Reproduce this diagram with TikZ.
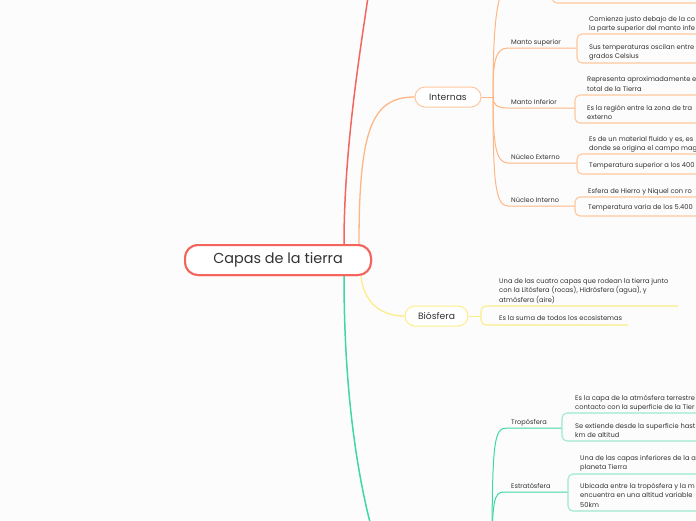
\documentclass[tikz,border=0pt]{standalone}
\usepackage{fontspec}
\setmainfont{Poppins}
\usetikzlibrary{calc}
\definecolor{bg}{HTML}{FCFCFC}
\definecolor{redl}{HTML}{F5655F}
\definecolor{orl}{HTML}{FFB685}
\definecolor{orb}{HTML}{FFC79E}
\definecolor{yel}{HTML}{FBEE8A}
\definecolor{grn}{HTML}{3FD8A2}
\definecolor{grb}{HTML}{9EE9CF}
\definecolor{txt}{HTML}{333333}
\tikzset{
  mainnode/.style={draw=redl, line width=2pt, rounded corners=13pt, minimum width=186pt, minimum height=30pt, text=txt, font=\fontsize{14.4}{16}\selectfont, fill=white},
  subnode/.style={line width=1pt, rounded corners=10pt, minimum height=20pt, text=txt, font=\fontsize{9.2}{11}\selectfont, fill=white},
  lbl/.style={text=txt, font=\fontsize{6.6}{8}\selectfont, inner sep=0pt, anchor=base west},
  det/.style={text=txt, font=\fontsize{6.7}{9.5}\selectfont, inner sep=0pt, anchor=north west, align=left, yshift=-2.5pt},
  brk/.style={line width=1.1pt, rounded corners=5pt},
}
\begin{document}
\begin{tikzpicture}[x=1pt,y=-1pt]
\fill[bg] (0,0) rectangle (696,520);
\useasboundingbox (0,0) rectangle (696,520);
\clip (0,0) rectangle (696,520);

% ---- nodes ----
\node[mainnode] (root) at (278,260) {Capas de la tierra};
\node[subnode, draw=orb, minimum width=66pt] (int) at (448,97) {Internas};
\node[subnode, draw=yel, minimum width=63pt] (bio) at (436.5,316) {Biósfera};

\coordinate (topred) at (369,-10);
\coordinate (botgrn) at (372,530);
\coordinate (os) at (493,97);
\coordinate (gs) at (492,560);
\coordinate (ctop) at (512,-18);

% ---- main branches ----
\draw[redl, line width=1.5pt] ([xshift=-28pt]root.north east) .. controls ([xshift=-28pt,yshift=100pt]root.north east) and (362,40) .. (topred);
\draw[orl, line width=1.3pt] ([xshift=-13pt]root.north east) .. controls ([xshift=-13pt,yshift=115pt]root.north east) and (372,97) .. (int.west);
\draw[yel, line width=1.3pt] ([xshift=-11pt]root.south east) .. controls ([xshift=-8pt,yshift=-28pt]root.south east) and (382,316) .. (bio.west);
\draw[grn, line width=1.5pt] ([xshift=-28pt]root.south east) .. controls ([xshift=-28pt,yshift=-110pt]root.south east) and (356,470) .. (botgrn);

% redraw nodes on top
\node[mainnode] at (root) {Capas de la tierra};

% ---- Internas spine ----
\draw[orl, line width=1pt] (int.east) -- (os);
\draw[orl, line width=1pt] (os) .. controls (493,30) and (496,-18) .. (ctop);
\draw[orl, line width=1pt] (os) .. controls (493,62) and (495,48) .. (508,48) -- (577,48);
\draw[orl, line width=1pt] (os) .. controls (493,104) and (496,108) .. (508,108) -- (575,108);
\draw[orl, line width=1pt] (os) .. controls (493,145) and (496,163) .. (508,163) -- (577,163);
\draw[orl, line width=1pt] (os) .. controls (493,180) and (495,206) .. (508,206) -- (575,206);

\node[lbl] (ms) at (511,44.5) {Manto superior};
\node[lbl] (mi) at (511,104) {Manto Inferior};
\node[lbl] (ne) at (511,159) {Núcleo Externo};
\node[lbl] (ni) at (511,202) {Núcleo Interno};

% brackets (orange)
\draw[orb, brk] (720,-20) -- (720,3) -- (552,3) -- (552,-20);
\draw[orb, brk] (720,34) -- (577,34) -- (577,63) -- (720,63);
\draw[orb, brk] (720,95) -- (575,95) -- (575,123) -- (720,123);
\draw[orb, brk] (720,154) -- (577,154) -- (577,174) -- (720,174);
\draw[orb, brk] (720,197) -- (575,197) -- (575,216) -- (720,216);

\node[det] at (589,13.5) {Comienza justo debajo de la co\\la parte superior del manto infe};
\node[det] at (589,41.5) {Sus temperaturas oscilan entre\\grados Celsius};
\node[det] at (587,74) {Representa aproximadamente e\\total de la Tierra};
\node[det] at (587,102.5) {Es la región entre la zona de tra\\externo};
\node[det] at (589,133.5) {Es de un material fluido y es, es\\donde se origina el campo mag};
\node[det] at (589,159.5) {Temperatura superior a los 400};
\node[det] at (588,185.5) {Esfera de Hierro y Niquel con ro};
\node[det] at (588,201.5) {Temperatura varia de los 5.400};

% ---- Biósfera ----
\draw[yel, line width=1pt] (bio.east) -- (481,316);
\draw[yel, brk] (678,306) -- (481,306) -- (481,325) -- (628,325);
\node[det] at (499,275.5) {Una de las cuatro capas que rodean la tierra junto\\con la Litósfera (rocas), Hidrósfera (agua), y\\atmósfera (aire)};
\node[det] at (499,312.5) {Es la suma de todos los ecosistemas};

% ---- green spine ----
\draw[grn, line width=1pt] (gs) .. controls (492,440) and (494,428) .. (507,428) -- (562,428);
\draw[grn, line width=1pt] (gs) .. controls (492,500) and (494,492) .. (504,492) -- (568,492);
\node[lbl] (tr) at (511,424) {Tropósfera};
\node[lbl] (es) at (511,488) {Estratósfera};
\draw[grb, brk] (720,413) -- (562,413) -- (562,441) -- (720,441);
\draw[grb, brk] (720,474) -- (568,474) -- (568,511) -- (720,511);
\node[det] at (575,392.5) {Es la capa de la atmósfera terrestre\\contacto con la superficie de la Tier};
\node[det] at (575,420.5) {Se extiende desde la superficie hast\\km de altitud};
\node[det] at (580,452.5) {Una de las capas inferiores de la a\\planeta Tierra};
\node[det] at (580,480.5) {Ubicada entre la tropósfera y la m\\encuentra en una altitud variable\\50km};
\end{tikzpicture}
\end{document}
